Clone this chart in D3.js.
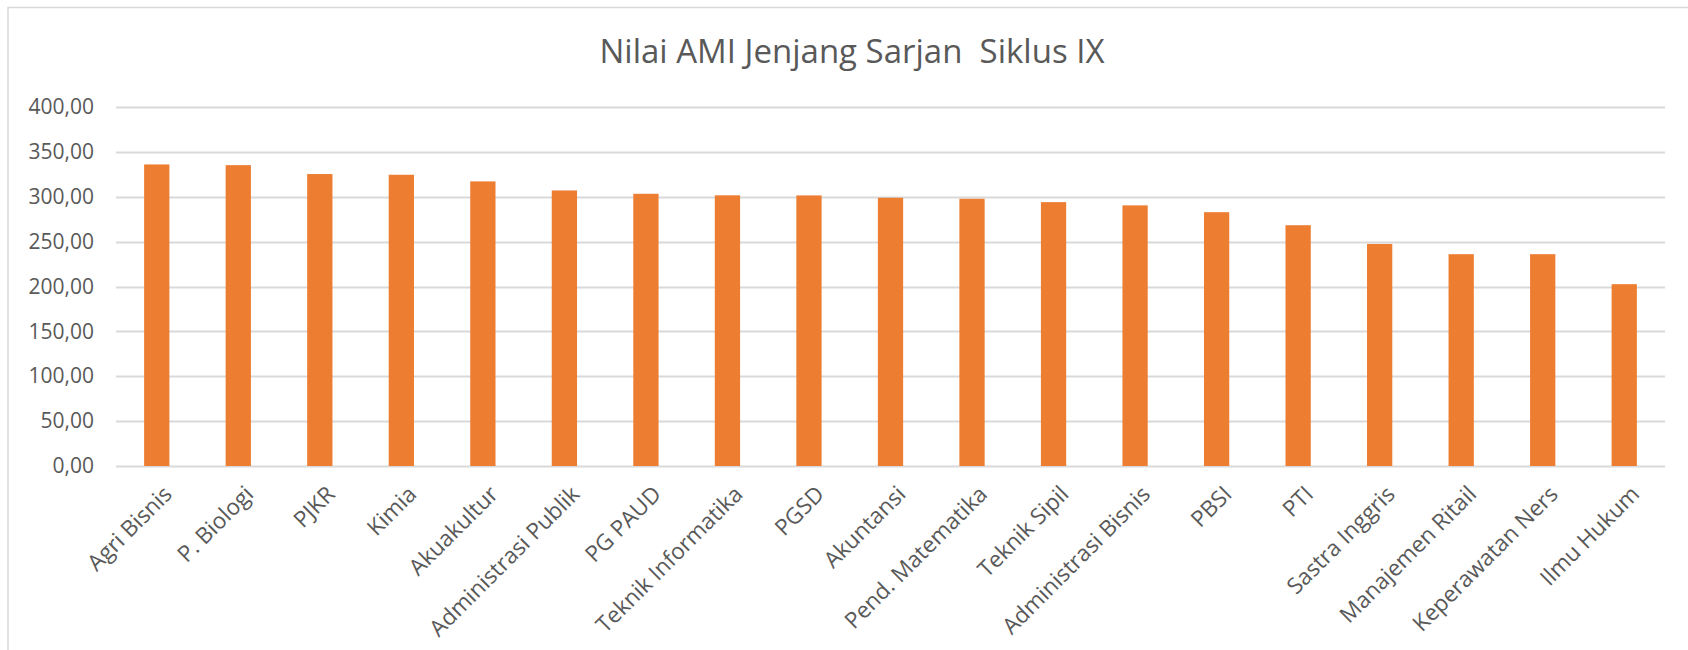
<!DOCTYPE html>
<html>
<head>
<meta charset="utf-8">
<script src="https://cdn.jsdelivr.net/npm/d3@7"></script>
<style>
  body { margin: 0; background: #fff; }
  svg { display: block; }
  text { font-family: "Open Sans", sans-serif; fill: #595959; }
</style>
</head>
<body>
<div id="chart"></div>
<script>
var titleText = "Nilai AMI Jenjang Sarjan  Siklus IX";

var prodi = [
  "Agri Bisnis", "P. Biologi", "PJKR", "Kimia", "Akuakultur",
  "Administrasi Publik", "PG PAUD", "Teknik Informatika", "PGSD", "Akuntansi",
  "Pend. Matematika", "Teknik Sipil", "Administrasi Bisnis", "PBSI", "PTI",
  "Sastra Inggris", "Manajemen Ritail", "Keperawatan Ners", "Ilmu Hukum"
];

var nilai = [
  336.0, 335.2, 325.3, 324.5, 317.1,
  307.0, 303.3, 301.6, 301.5, 298.9,
  297.8, 294.0, 290.4, 282.8, 268.3,
  247.4, 236.0, 236.0, 202.6
];

var yTicks = [0, 50, 100, 150, 200, 250, 300, 350, 400];

var attrs = {
  width: 1688,
  height: 650,
  margin: { top: 107, left: 116, right: 23, bottom: 184 },
  barColor: "#ED7D31",
  gridColor: "#D9D9D9"
};

var chartWidth = attrs.width - attrs.margin.left - attrs.margin.right;
var chartHeight = attrs.height - attrs.margin.top - attrs.margin.bottom;

var svg = d3.select("#chart")
  .append("svg")
  .attr("width", attrs.width)
  .attr("height", attrs.height);

// chart frame (cut off at right and bottom like the original)
svg.append("rect")
  .attr("x", 8)
  .attr("y", 7.5)
  .attr("width", attrs.width + 20)
  .attr("height", attrs.height + 20)
  .attr("fill", "none")
  .attr("stroke", attrs.gridColor)
  .attr("stroke-width", 1.5);

svg.append("text")
  .attr("x", 852)
  .attr("y", 63)
  .attr("text-anchor", "middle")
  .attr("font-size", "33px")
  .style("white-space", "pre")
  .text(titleText);

var chart = svg.append("g")
  .attr("transform", `translate(${attrs.margin.left}, ${attrs.margin.top})`);

var x = d3.scaleBand()
  .domain(prodi)
  .range([0, chartWidth])
  .paddingInner(0.69)
  .paddingOuter(0.345);

var y = d3.scaleLinear()
  .domain([0, 400])
  .range([chartHeight, 0]);

// gridlines
chart.append("g")
  .selectAll("line")
  .data(yTicks)
  .join("line")
  .attr("x1", 0)
  .attr("x2", chartWidth)
  .attr("y1", (d) => Math.round(y(d)) + 0.5)
  .attr("y2", (d) => Math.round(y(d)) + 0.5)
  .attr("stroke", attrs.gridColor)
  .attr("stroke-width", 2);

// y axis labels
var fmt = (d) => d3.format(".2f")(d).replace(".", ",");
var yAxis = chart.append("g")
  .call(d3.axisLeft(y).tickValues(yTicks).tickFormat(fmt).tickSize(0).tickPadding(22));
yAxis.select(".domain").remove();
yAxis.selectAll("text")
  .attr("font-size", "21px")
  .attr("fill", "#595959")
  .attr("font-family", "Open Sans, sans-serif");

// bars
chart.append("g")
  .selectAll("rect")
  .data(prodi)
  .join("rect")
  .attr("x", (d) => x(d))
  .attr("y", (d, i) => y(nilai[i]))
  .attr("width", x.bandwidth())
  .attr("height", (d, i) => chartHeight - y(nilai[i]))
  .attr("fill", attrs.barColor);

// x axis labels, rotated
chart.append("g")
  .selectAll("text")
  .data(prodi)
  .join("text")
  .attr("transform", (d) => `translate(${x(d) + x.bandwidth() / 2 + 11}, ${chartHeight + 24}) rotate(-45)`)
  .attr("text-anchor", "end")
  .attr("dy", "0.35em")
  .attr("font-size", "22.5px")
  .text((d) => d);
</script>
</body>
</html>
